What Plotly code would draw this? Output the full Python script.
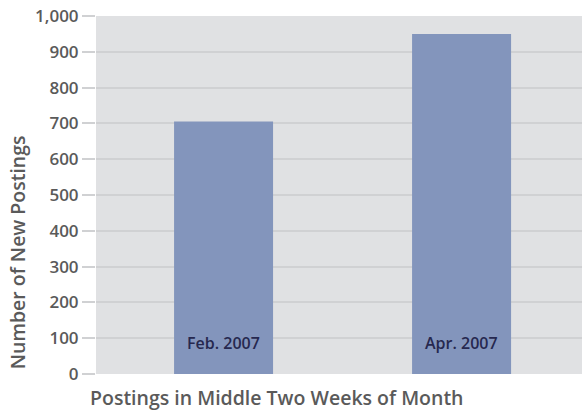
import plotly.graph_objects as go

categories = ["Feb. 2007", "Apr. 2007"]
postings = [705, 950]
tick_vals = [0, 100, 200, 300, 400, 500, 600, 700, 800, 900, 1000]
tick_text = ["0", "100", "200", "300", "400", "500", "600", "700", "800", "900", "1,000"]

FONT = "Open Sans, sans-serif"

fig = go.Figure()
fig.add_trace(go.Bar(x=categories, y=postings, marker_color="#8395bc",
                     marker_line_width=0, width=0.416, hoverinfo="skip"))

for c in categories:
    fig.add_annotation(x=c, y=0, text=c, showarrow=False, yanchor="middle", yshift=31,
                       font=dict(family=FONT, size=16, color="#26284f", weight=600))

fig.add_annotation(xref="paper", yref="paper", x=0, y=0, xanchor="left", yanchor="middle",
                   yshift=-23, xshift=-8, text="Postings in Middle Two Weeks of Month",
                   showarrow=False,
                   font=dict(family=FONT, size=19.5, color="#5a5a5a", weight=600))
fig.add_annotation(xref="paper", yref="paper", x=0, y=0.34, xanchor="center", yanchor="middle",
                   xshift=-79, textangle=-90, text="Number of New Postings", showarrow=False,
                   font=dict(family=FONT, size=19.5, color="#5a5a5a", weight=600))

fig.update_layout(
    width=582, height=411,
    margin=dict(l=96, r=0, t=16, b=37, autoexpand=False),
    paper_bgcolor="white", plot_bgcolor="#e0e1e3",
    showlegend=False,
    xaxis=dict(range=[-0.536, 1.506], showticklabels=False, showgrid=False,
               zeroline=False, ticks="", automargin=False),
    yaxis=dict(range=[0, 1000], tickvals=tick_vals, ticktext=tick_text,
               showgrid=True, gridcolor="#d0d1d3", gridwidth=1.5, zeroline=False,
               ticks="outside", ticklen=13, tickcolor="#d0d1d3", tickwidth=1.5,
               tickfont=dict(family=FONT, size=17, color="#5a5a5a", weight=600),
               showline=False, automargin=False),
)

fig.write_html("out.html", config={"displayModeBar": False},
               post_script="document.body.style.margin='0';document.body.style.overflow='hidden';")
